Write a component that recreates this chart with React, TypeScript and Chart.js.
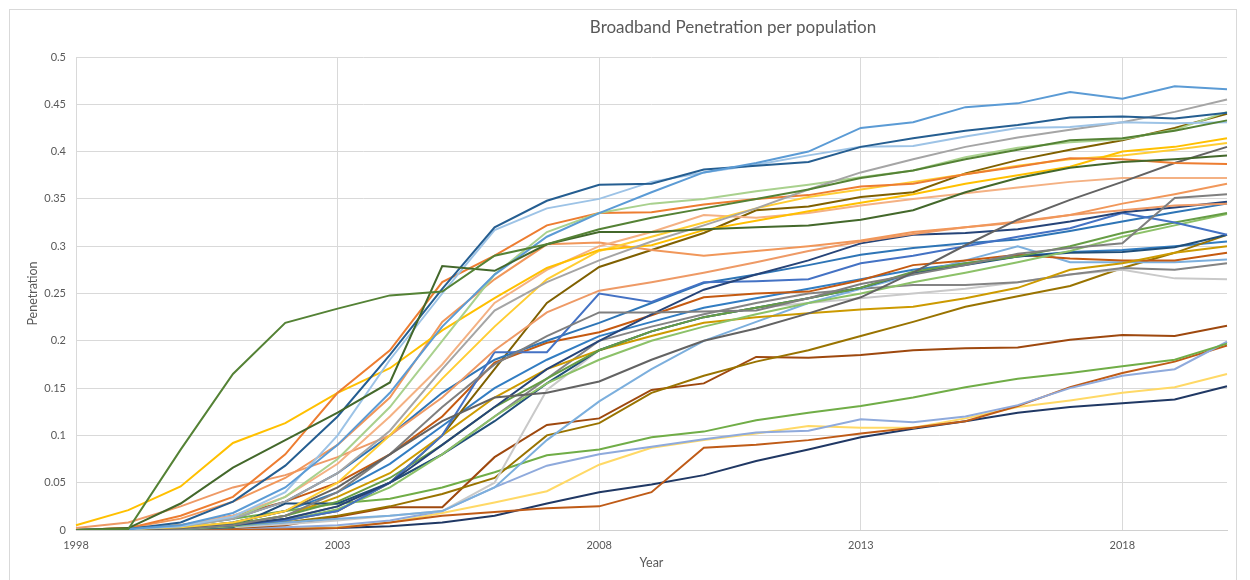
import React, { useEffect, useRef } from "react";
import { Chart, registerables } from "chart.js";

Chart.register(...registerables);

const years = [
  "1998", "1999", "2000", "2001", "2002", "2003", "2004", "2005", "2006", "2007", "2008", "2009",
  "2010", "2011", "2012", "2013", "2014", "2015", "2016", "2017", "2018", "2019", "2020",
];
const yTicks = [0, 0.05, 0.1, 0.15, 0.2, 0.25, 0.3, 0.35, 0.4, 0.45, 0.5];
const chartTitle = "Broadband Penetration per population";
const xTitle = "Year";
const yTitle = "Penetration";

const s01 = [0, 0.001, 0.085, 0.165, 0.219, 0.234, 0.248, 0.252, 0.29, 0.302, 0.318, 0.33, 0.34, 0.35, 0.36, 0.372, 0.38, 0.392, 0.402, 0.412, 0.414, 0.422, 0.433];
const s02 = [0, 0.002, 0.028, 0.066, 0.095, 0.124, 0.156, 0.279, 0.274, 0.302, 0.315, 0.315, 0.318, 0.32, 0.322, 0.328, 0.338, 0.357, 0.372, 0.383, 0.389, 0.392, 0.396];
const s03 = [0, 0.001, 0.005, 0.018, 0.045, 0.09, 0.145, 0.215, 0.27, 0.31, 0.335, 0.357, 0.378, 0.388, 0.4, 0.425, 0.431, 0.447, 0.451, 0.463, 0.456, 0.469, 0.466];
const s04 = [0, 0.001, 0.008, 0.03, 0.068, 0.12, 0.185, 0.255, 0.32, 0.348, 0.365, 0.366, 0.381, 0.385, 0.389, 0.405, 0.414, 0.422, 0.428, 0.436, 0.437, 0.435, 0.441];
const s05 = [0, 0.001, 0.004, 0.014, 0.04, 0.1, 0.18, 0.25, 0.317, 0.34, 0.35, 0.368, 0.378, 0.386, 0.396, 0.405, 0.406, 0.416, 0.425, 0.426, 0.431, 0.43, 0.431];
const s06 = [0, 0.001, 0.004, 0.012, 0.03, 0.06, 0.105, 0.17, 0.232, 0.262, 0.285, 0.305, 0.322, 0.34, 0.36, 0.378, 0.392, 0.405, 0.415, 0.423, 0.431, 0.442, 0.455];
const s07 = [0, 0.001, 0.004, 0.012, 0.035, 0.075, 0.13, 0.2, 0.27, 0.315, 0.335, 0.345, 0.35, 0.358, 0.365, 0.373, 0.38, 0.394, 0.404, 0.41, 0.413, 0.423, 0.442];
const s08 = [0, 0.002, 0.015, 0.035, 0.08, 0.145, 0.19, 0.262, 0.29, 0.322, 0.335, 0.336, 0.344, 0.35, 0.354, 0.363, 0.366, 0.376, 0.384, 0.393, 0.392, 0.388, 0.387];
const s09 = [0.005, 0.021, 0.046, 0.092, 0.113, 0.145, 0.171, 0.211, 0.245, 0.277, 0.296, 0.301, 0.317, 0.327, 0.337, 0.346, 0.355, 0.366, 0.375, 0.384, 0.4, 0.405, 0.414];
const s10 = [0, 0.001, 0.003, 0.008, 0.02, 0.05, 0.1, 0.16, 0.215, 0.265, 0.295, 0.31, 0.325, 0.34, 0.352, 0.36, 0.368, 0.376, 0.385, 0.392, 0.396, 0.402, 0.409];
const s11 = [0, 0, 0.002, 0.008, 0.02, 0.045, 0.08, 0.115, 0.14, 0.145, 0.157, 0.18, 0.2, 0.213, 0.229, 0.246, 0.272, 0.301, 0.328, 0.349, 0.368, 0.388, 0.405];
const s12 = [0, 0, 0.001, 0.005, 0.015, 0.04, 0.08, 0.13, 0.175, 0.205, 0.23, 0.23, 0.231, 0.232, 0.245, 0.26, 0.27, 0.28, 0.292, 0.298, 0.303, 0.351, 0.355];
const s13 = [0, 0.001, 0.005, 0.015, 0.035, 0.07, 0.12, 0.175, 0.24, 0.275, 0.3, 0.315, 0.333, 0.33, 0.335, 0.343, 0.35, 0.356, 0.362, 0.368, 0.372, 0.372, 0.372];
const s14 = [0, 0.002, 0.012, 0.03, 0.055, 0.09, 0.14, 0.22, 0.265, 0.302, 0.304, 0.296, 0.29, 0.295, 0.3, 0.306, 0.315, 0.32, 0.325, 0.333, 0.345, 0.355, 0.366];
const s15 = [0.002, 0.008, 0.025, 0.045, 0.058, 0.077, 0.1, 0.14, 0.19, 0.23, 0.253, 0.262, 0.272, 0.283, 0.295, 0.305, 0.313, 0.32, 0.326, 0.333, 0.338, 0.343, 0.345];
const s16 = [0, 0, 0.002, 0.005, 0.012, 0.025, 0.05, 0.09, 0.13, 0.17, 0.2, 0.228, 0.254, 0.27, 0.285, 0.303, 0.312, 0.314, 0.318, 0.326, 0.336, 0.341, 0.347];
const s17 = [0, 0, 0.002, 0.005, 0.01, 0.02, 0.05, 0.1, 0.188, 0.188, 0.25, 0.241, 0.262, 0.263, 0.265, 0.282, 0.29, 0.3, 0.31, 0.319, 0.335, 0.325, 0.312];
const s18 = [0, 0.001, 0.004, 0.012, 0.03, 0.06, 0.1, 0.145, 0.18, 0.2, 0.219, 0.24, 0.261, 0.27, 0.28, 0.291, 0.298, 0.303, 0.307, 0.316, 0.326, 0.336, 0.345];
const s19 = [0, 0, 0.002, 0.006, 0.015, 0.03, 0.055, 0.09, 0.13, 0.16, 0.19, 0.21, 0.225, 0.235, 0.245, 0.256, 0.273, 0.282, 0.289, 0.3, 0.314, 0.325, 0.335];
const s20 = [0, 0, 0.001, 0.004, 0.01, 0.022, 0.045, 0.08, 0.12, 0.155, 0.18, 0.2, 0.215, 0.228, 0.24, 0.25, 0.262, 0.272, 0.283, 0.295, 0.31, 0.322, 0.334];
const s21 = [0, 0, 0.001, 0.003, 0.028, 0.028, 0.05, 0.08, 0.115, 0.155, 0.19, 0.21, 0.225, 0.235, 0.245, 0.256, 0.272, 0.28, 0.289, 0.293, 0.294, 0.299, 0.312];
const s22 = [0, 0, 0.002, 0.006, 0.015, 0.035, 0.06, 0.1, 0.14, 0.17, 0.19, 0.205, 0.219, 0.225, 0.229, 0.233, 0.236, 0.245, 0.256, 0.275, 0.282, 0.293, 0.3];
const s23 = [0, 0.001, 0.005, 0.015, 0.03, 0.05, 0.08, 0.12, 0.177, 0.198, 0.209, 0.227, 0.246, 0.25, 0.252, 0.264, 0.28, 0.285, 0.291, 0.287, 0.285, 0.285, 0.293];
const s24 = [0, 0, 0.001, 0.004, 0.008, 0.012, 0.015, 0.02, 0.045, 0.095, 0.136, 0.17, 0.2, 0.22, 0.24, 0.255, 0.27, 0.285, 0.3, 0.283, 0.283, 0.283, 0.286];
const s25 = [0, 0, 0.001, 0.005, 0.012, 0.025, 0.05, 0.08, 0.12, 0.16, 0.2, 0.215, 0.228, 0.24, 0.25, 0.255, 0.259, 0.259, 0.262, 0.27, 0.277, 0.275, 0.282];
const s26 = [0, 0, 0.001, 0.003, 0.006, 0.01, 0.015, 0.02, 0.05, 0.148, 0.19, 0.21, 0.225, 0.235, 0.24, 0.245, 0.25, 0.255, 0.262, 0.27, 0.275, 0.266, 0.265];
const s27 = [0, 0, 0.001, 0.004, 0.01, 0.02, 0.05, 0.1, 0.17, 0.24, 0.278, 0.296, 0.314, 0.338, 0.342, 0.352, 0.357, 0.377, 0.391, 0.402, 0.412, 0.425, 0.44];
const s28 = [0, 0, 0.001, 0.003, 0.008, 0.015, 0.025, 0.038, 0.055, 0.1, 0.113, 0.145, 0.163, 0.178, 0.19, 0.205, 0.22, 0.236, 0.247, 0.258, 0.277, 0.293, 0.312];
const s29 = [0, 0, 0.001, 0.002, 0.005, 0.014, 0.024, 0.024, 0.077, 0.111, 0.118, 0.148, 0.155, 0.183, 0.182, 0.185, 0.19, 0.192, 0.193, 0.201, 0.206, 0.205, 0.216];
const s30 = [0, 0.002, 0.005, 0.012, 0.02, 0.028, 0.033, 0.045, 0.061, 0.079, 0.085, 0.098, 0.104, 0.116, 0.124, 0.131, 0.14, 0.151, 0.16, 0.166, 0.173, 0.18, 0.197];
const s31 = [0, 0, 0.001, 0.002, 0.003, 0.005, 0.01, 0.02, 0.045, 0.068, 0.08, 0.088, 0.096, 0.103, 0.105, 0.117, 0.114, 0.12, 0.132, 0.15, 0.163, 0.17, 0.199];
const s32 = [0, 0, 0, 0.001, 0.001, 0.002, 0.008, 0.015, 0.019, 0.023, 0.025, 0.04, 0.087, 0.09, 0.095, 0.102, 0.108, 0.115, 0.131, 0.151, 0.166, 0.178, 0.195];
const s33 = [0, 0, 0, 0.001, 0.002, 0.003, 0.008, 0.018, 0.029, 0.041, 0.069, 0.087, 0.095, 0.102, 0.11, 0.108, 0.108, 0.118, 0.13, 0.137, 0.145, 0.151, 0.165];
const s34 = [0, 0, 0, 0, 0.001, 0.002, 0.004, 0.008, 0.015, 0.028, 0.04, 0.048, 0.058, 0.073, 0.085, 0.098, 0.107, 0.115, 0.124, 0.13, 0.134, 0.138, 0.152];
const s35 = [0, 0, 0.002, 0.008, 0.02, 0.04, 0.07, 0.11, 0.15, 0.18, 0.205, 0.22, 0.235, 0.245, 0.255, 0.265, 0.275, 0.282, 0.289, 0.294, 0.296, 0.3, 0.305];

const seriesData = [
  s01, s02, s03, s04, s05, s06, s07, s08, s09, s10, s11, s12, s13, s14, s15, s16, s17, s18,
  s19, s20, s21, s22, s23, s24, s25, s26, s27, s28, s29, s30, s31, s32, s33, s34, s35,
];
const seriesColors = [
  "#548235", "#43682B", "#5B9BD5", "#255E91", "#9DC3E6", "#A5A5A5", "#A9D18E", "#ED7D31", "#FFC000",
  "#FFCD33", "#636363", "#7F7F7F", "#F4B183", "#F1975A", "#EE9A66", "#264478", "#4472C4", "#2E75B6",
  "#669D45", "#8CC168", "#1F4E79", "#CC9A00", "#C55A11", "#7CAFDD", "#848484", "#C9C9C9", "#7F6000",
  "#997300", "#9E480E", "#70AD47", "#8FAADC", "#BF5B17", "#FFD966", "#203864", "#327DC2",
];

const TEXT = "#595959";
const FONT = "Lato, 'Open Sans', sans-serif";

const decor = {
  id: "decor",
  beforeDraw(chart: any) {
    const ctx = chart.ctx;
    ctx.save();
    ctx.strokeStyle = "#d9d9d9";
    ctx.lineWidth = 1;
    ctx.strokeRect(9.5, 9.5, 1227, 620);
    ctx.restore();
  },
  afterDraw(chart: any) {
    const ctx = chart.ctx;
    const a = chart.chartArea;
    ctx.save();
    ctx.fillStyle = TEXT;
    ctx.textAlign = "center";
    ctx.textBaseline = "middle";
    ctx.font = "17px " + FONT;
    ctx.fillText(chartTitle, 733, 28);
    ctx.font = "12.5px " + FONT;
    ctx.fillText(xTitle, (a.left + a.right) / 2, 563);
    ctx.translate(33, (a.top + a.bottom) / 2);
    ctx.rotate(-Math.PI / 2);
    ctx.fillText(yTitle, 0, 0);
    ctx.restore();
  },
};

export default function App() {
  const ref = useRef<HTMLCanvasElement | null>(null);
  useEffect(() => {
    if (!ref.current) return;
    const chart = new Chart(ref.current, {
      type: "line",
      data: {
        labels: years,
        datasets: seriesData.map((d, i) => ({
          label: "Series " + (i + 1),
          data: d,
          borderColor: seriesColors[i],
          backgroundColor: seriesColors[i],
          borderWidth: 2,
          pointRadius: 0,
          tension: 0,
          fill: false,
        })),
      },
      options: {
        animation: false,
        responsive: true,
        maintainAspectRatio: false,
        layout: { padding: { left: 36, right: 23, top: 57, bottom: 20 } },
        plugins: { legend: { display: false }, title: { display: false }, tooltip: { enabled: false } },
        scales: {
          x: {
            type: "category",
            offset: false,
            afterFit: (s: any) => { s.height = 30; },
            grid: {
              color: (c: any) => (c.index % 5 === 0 ? "#d9d9d9" : "rgba(0,0,0,0)"),
              drawTicks: false,
              lineWidth: 1,
            },
            border: { color: "#d0d0d0", width: 1 },
            ticks: {
              autoSkip: false,
              maxRotation: 0,
              padding: 9,
              color: TEXT,
              font: { family: FONT, size: 11 },
              callback: (v: any, i: number) => (i % 5 === 0 ? years[i] : ""),
            },
          },
          y: {
            type: "linear",
            min: 0,
            max: 0.5,
            afterFit: (s: any) => { s.width = 40; },
            afterBuildTicks: (s: any) => { s.ticks = yTicks.map((v) => ({ value: v })); },
            grid: { color: "#d9d9d9", drawTicks: false, lineWidth: 1 },
            border: { display: false },
            ticks: {
              padding: 10,
              color: TEXT,
              font: { family: FONT, size: 11 },
              callback: (v: any) => String(v),
            },
          },
        },
      },
      plugins: [decor],
    });
    return () => chart.destroy();
  }, []);
  return (
    <div style={{ position: "fixed", left: 0, top: 0, width: 1250, height: 580, background: "#fff" }}>
      <canvas ref={ref} />
    </div>
  );
}
